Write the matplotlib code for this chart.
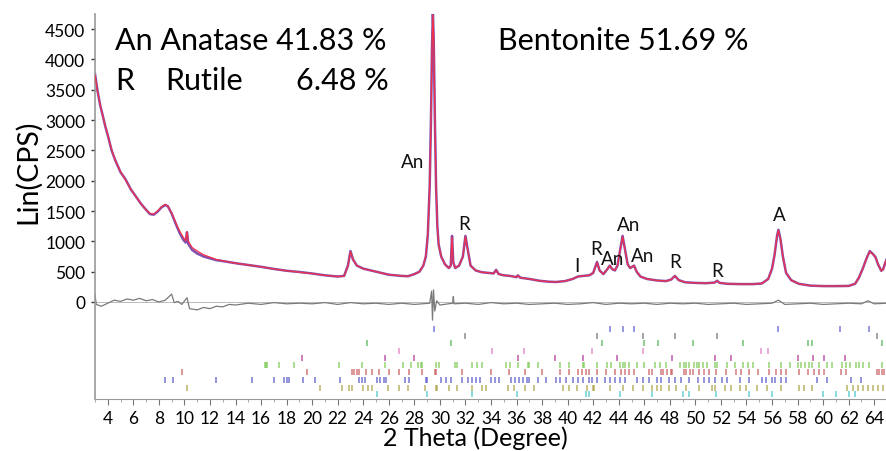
import matplotlib
matplotlib.use("Agg")
import matplotlib.pyplot as plt
from matplotlib.ticker import MultipleLocator

plt.rcParams['font.family'] = ['Lato', 'DejaVu Sans']

# ---------------- data ----------------
two_theta = [3.0, 3.2, 3.4, 3.6, 3.8, 4.0, 4.3, 4.6, 5.0, 5.4, 5.8, 6.2, 6.6, 7.0, 7.3, 7.6, 7.9,
             8.2, 8.5, 8.7, 9.0, 9.3, 9.6, 9.9, 10.1, 10.2, 10.3, 10.6, 11.0, 11.5, 12.0, 12.5,
             13.0, 14.0, 15.0, 16.0, 17.0, 18.0, 19.0, 20.0, 21.0, 22.0, 22.5, 22.8, 23.0, 23.2,
             23.5, 24.0, 25.0, 26.0, 27.0, 27.5, 28.0, 28.4, 28.7, 28.9, 29.05, 29.2, 29.3, 29.38,
             29.45, 29.52, 29.6, 29.7, 29.8, 29.9, 30.1, 30.4, 30.7, 30.85, 30.95, 31.05, 31.2,
             31.5, 31.8, 32.0, 32.15, 32.4, 32.8, 33.3, 33.8, 34.2, 34.4, 34.6, 35.0, 35.5, 36.0,
             36.1, 36.3, 37.0, 37.8, 38.5, 39.1, 39.8, 40.4, 40.8, 41.2, 41.7, 42.0, 42.3, 42.5,
             42.8, 43.1, 43.3, 43.5, 43.7, 43.9, 44.1, 44.3, 44.5, 44.7, 44.9, 45.2, 45.4, 45.7,
             46.2, 47.0, 47.7, 48.1, 48.4, 48.7, 49.2, 50.0, 50.8, 51.5, 51.7, 51.9, 52.5, 53.5,
             54.5, 55.2, 55.7, 56.0, 56.2, 56.4, 56.5, 56.65, 56.85, 57.1, 57.5, 58.1, 59.0, 60.0,
             61.0, 62.0, 62.5, 62.8, 63.1, 63.4, 63.65, 63.9, 64.1, 64.3, 64.55, 64.7, 64.85, 65.0]
observed = [3760, 3480, 3250, 3080, 2900, 2750, 2500, 2330, 2140, 2020, 1860, 1740, 1620, 1520,
            1450, 1440, 1490, 1560, 1600, 1580, 1460, 1300, 1150, 1030, 980, 1150, 960, 860, 800,
            750, 720, 690, 675, 640, 610, 580, 545, 515, 495, 470, 440, 420, 430, 600, 840, 700,
            600, 550, 500, 450, 430, 425, 460, 500, 600, 750, 1100, 1900, 3000, 4200, 4760, 4300,
            3100, 1900, 1250, 950, 750, 620, 560, 600, 1090, 650, 560, 600, 750, 1090, 900, 600,
            520, 490, 480, 470, 530, 460, 440, 430, 410, 440, 400, 380, 350, 335, 330, 345, 380,
            420, 430, 440, 480, 660, 520, 460, 540, 600, 540, 520, 600, 850, 1090, 850, 620, 560,
            600, 500, 420, 380, 355, 345, 370, 430, 360, 325, 315, 310, 320, 350, 315, 300, 295,
            295, 305, 380, 550, 780, 1100, 1190, 1050, 750, 480, 360, 300, 270, 262, 262, 265,
            300, 400, 550, 720, 840, 790, 740, 620, 515, 540, 640, 720]
calculated = [3740, 3470, 3260, 3080, 2910, 2760, 2510, 2330, 2150, 2010, 1860, 1740, 1620, 1520,
              1460, 1450, 1500, 1570, 1610, 1580, 1470, 1320, 1180, 1070, 1010, 1160, 1000, 900,
              840, 780, 740, 700, 680, 640, 610, 580, 545, 515, 492, 468, 440, 420, 428, 590, 830,
              700, 600, 550, 500, 452, 430, 425, 460, 500, 600, 760, 1120, 1920, 3000, 4150, 4740,
              4320, 3120, 1900, 1250, 950, 750, 620, 560, 600, 1070, 650, 560, 600, 750, 1080,
              900, 600, 520, 490, 480, 470, 520, 460, 440, 430, 410, 435, 400, 380, 350, 335, 330,
              345, 380, 420, 430, 440, 480, 650, 520, 460, 540, 600, 540, 520, 600, 850, 1080,
              850, 620, 560, 600, 500, 420, 380, 355, 345, 370, 430, 360, 325, 315, 310, 320, 345,
              315, 300, 295, 295, 305, 380, 550, 780, 1100, 1180, 1050, 750, 480, 360, 300, 270,
              262, 262, 265, 300, 400, 550, 720, 830, 790, 740, 620, 515, 540, 640, 720]

diff_theta = [3.0, 3.1, 3.5, 4.0, 4.5, 5.0, 5.5, 6.0, 6.5, 7.0, 7.5, 8.0, 8.5, 9.0, 9.2, 9.5, 9.8,
              10.2, 10.4, 11.0, 11.5, 12.0, 12.5, 13.0, 13.5, 14.0, 15.0, 16.0, 17.0, 18.0, 19.0,
              20.0, 21.0, 22.0, 23.0, 24.0, 25.0, 26.0, 27.0, 28.0, 29.2, 29.35, 29.42, 29.5,
              29.6, 29.75, 30.0, 31.0, 31.05, 31.1, 32.0, 33.0, 34.0, 35.0, 36.0, 37.0, 38.0,
              39.0, 40.0, 41.0, 42.0, 43.0, 44.0, 45.0, 46.0, 47.0, 48.0, 49.0, 50.0, 51.0, 52.0,
              53.0, 54.0, 55.0, 56.0, 56.5, 57.0, 58.0, 59.0, 60.0, 61.0, 62.0, 63.0, 63.5, 64.0,
              65.0]
difference = [120, -40, -70, -20, 30, 10, 50, 30, 60, 20, 40, 0, 30, 130, -10, 10, -40, 70,
              -110, -130, -90, -110, -70, -80, -40, -50, -20, -40, -10, -30, -20, -30, -10, -40,
              -10, -30, -20, -40, -20, -40, -20, 180, -300, 200, -150, 20, -50, -20, 90, -30, -20,
              -40, -10, -30, -20, -40, -30, -20, -40, -30, -10, -40, -20, -30, -20, -40, -20, -30,
              -20, -40, -30, -20, -40, -30, -20, 30, -40, -30, -20, -40, -30, -20, -30, 20, -30,
              -20]

peak_labels = ["An", "R", "I", "R", "An", "An", "An", "R", "R", "A"]
peak_label_x = [27.9, 31.9, 40.7, 42.2, 43.5, 44.8, 45.9, 48.4, 51.7, 56.6]
peak_label_y = [2310, 1300, 610, 880, 720, 1280, 770, 670, 520, 1440]

phase_offsets = [-445, -560, -676, -808, -923, -1038, -1154, -1286, -1417, -1516]
phase_colors = ['#5a5ad0', '#707070', '#4fb24f', '#e07ac0', '#b0309a',
                '#78c850', '#c85a5a', '#5555c8', '#a8a040', '#40c4c8']
phase_positions = [
    [29.5, 43.3, 44.3, 45.2, 56.5, 61.3, 63.6],
    [32.0, 42.3, 45.9, 48.4, 51.7, 64.2],
    [24.3, 30.9, 42.7, 46.0, 47.1, 49.8, 53.7, 58.8, 59.1, 64.6],
    [26.8, 34.1, 36.6, 41.9, 45.9, 55.1, 55.7],
    [19.2, 25.7, 28.0, 36.1, 39.0, 41.2, 43.9, 48.2, 51.5, 52.8, 58.0, 59.2, 60.1, 61.7],
    [16.3, 16.4, 16.5, 17.4, 18.6, 22.1, 23.9, 25.7, 27.1, 27.7, 28.3, 28.5, 28.6, 29.7, 29.9,
     31.2, 31.3, 32.5, 32.9, 33.3, 35.2, 35.5, 36.1, 36.9, 37.0, 37.7, 39.4, 40.1, 41.2, 41.3,
     42.3, 43.1, 43.4, 44.1, 44.3, 44.5, 44.8, 45.4, 46.0, 46.8, 47.2, 47.7, 48.8, 49.1, 49.3,
     49.5, 49.9, 50.1, 50.3, 50.6, 50.9, 51.5, 51.7, 52.5, 53.1, 53.7, 54.1, 54.5, 55.8, 56.7,
     57.4, 58.0, 58.3, 58.6, 58.9, 59.1, 59.7, 60.3, 60.7, 61.5, 61.8, 62.1, 62.6, 62.8, 63.1,
     63.6, 64.6],
    [9.8, 19.6, 23.1, 23.3, 23.5, 23.7, 24.2, 24.7, 25.2, 26.0, 26.8, 27.6, 28.6, 29.6, 29.7,
     31.7, 34.0, 35.4, 36.7, 38.0, 39.4, 40.1, 40.8, 41.1, 41.4, 41.7, 42.3, 43.0, 43.7, 44.2,
     44.5, 44.8, 45.2, 46.4, 46.6, 47.3, 47.5, 47.8, 48.1, 48.2, 49.1, 49.3, 49.6, 49.8, 50.3,
     50.7, 51.1, 51.6, 52.4, 53.2, 53.6, 54.2, 54.9, 55.8, 56.3, 56.7, 57.1, 58.1, 58.8, 59.3,
     59.7, 60.1, 61.4, 61.8, 64.2, 64.4, 64.6, 64.8],
    [8.5, 9.1, 12.5, 15.3, 17.0, 17.8, 18.0, 18.2, 19.3, 20.2, 22.2, 23.7, 23.9, 24.1, 25.1,
     25.3, 25.6, 25.8, 27.3, 27.6, 28.9, 29.0, 30.1, 30.5, 30.9, 31.7, 32.2, 32.5, 32.8, 33.1,
     34.0, 34.3, 34.6, 35.6, 35.9, 36.2, 36.5, 36.8, 37.0, 37.7, 38.3, 39.1, 39.4, 39.9, 40.4,
     40.8, 41.2, 41.7, 41.9, 42.3, 42.9, 43.3, 43.7, 44.1, 44.5, 45.4, 45.9, 46.4, 47.0, 47.3,
     47.9, 48.4, 48.9, 49.5, 50.2, 50.7, 51.1, 51.5, 52.1, 52.5, 53.5, 54.2, 55.2, 55.5, 56.0,
     56.2, 56.7, 57.1, 59.5, 60.3, 62.2, 63.0],
    [10.2, 20.6, 22.3, 22.9, 23.1, 24.0, 24.4, 24.7, 25.9, 26.8, 27.5, 28.8, 29.7, 29.8, 30.7,
     31.3, 32.5, 33.3, 33.6, 35.3, 35.8, 36.7, 37.4, 39.6, 40.1, 40.7, 41.5, 42.0, 42.1, 43.3,
     44.3, 45.1, 45.9, 46.6, 47.0, 47.3, 47.9, 48.5, 49.3, 50.3, 51.3, 51.5, 52.3, 52.8, 53.5,
     54.0, 54.8, 55.6, 56.7, 58.1, 58.5, 59.1, 61.9, 62.3, 62.7, 63.1, 63.5, 63.9, 64.3, 64.7],
    [25.1, 29.0, 32.5, 36.0, 41.4, 41.7, 44.1, 46.6, 49.0, 49.5, 51.6, 54.2, 56.0, 60.0, 61.0,
     62.0, 62.5],
]

y_ticks = [0, 500, 1000, 1500, 2000, 2500, 3000, 3500, 4000, 4500]
x_ticks = list(range(4, 65, 2))

# ---------------- figure ----------------
W, H = 887, 452
AX_L, AX_T, AX_B = 95, 15, 400
AX_W, AX_H = W - AX_L, AX_B - AX_T
fig = plt.figure(figsize=(W / 100, H / 100), dpi=100)
ax = fig.add_axes([AX_L / W, 1 - AX_B / H, AX_W / W, AX_H / H])

ax.plot(two_theta, observed, color='#6a2fa0', lw=1.8, alpha=0.85, zorder=2)
ax.plot(two_theta, calculated, color='#f2304a', lw=0.9, zorder=3)
ax.axhline(0, color='#b0b0b0', lw=0.6, zorder=1)
ax.plot(diff_theta, difference, color='#7a7a7a', lw=0.9, zorder=2)

for offs, col, pos in zip(phase_offsets, phase_colors, phase_positions):
    ax.vlines(pos, offs - 50, offs + 50, colors=col, lw=1.1, alpha=0.8)

for lab, lx, ly in zip(peak_labels, peak_label_x, peak_label_y):
    ax.text(lx, ly, lab, fontsize=13.5, ha='center', va='center', color='#111111')

ax.set_xlim(3, 65)
ax.set_ylim(-1600, 4750)
ax.set_yticks(y_ticks)
ax.set_xticks(x_ticks)
ax.xaxis.set_minor_locator(MultipleLocator(1))
ax.tick_params(axis='y', labelsize=12.5, length=3, width=1, pad=4, color='#333333')
ax.tick_params(axis='x', which='major', labelsize=12.5, length=4, width=0.8, pad=4, color='#777777')
ax.tick_params(axis='x', which='minor', length=2, width=0.6, color='#999999')
for s in ['top', 'right']:
    ax.spines[s].set_visible(False)
ax.spines['left'].set_color('#9a9a9a')
ax.spines['bottom'].set_color('#9a9a9a')
ax.spines['left'].set_linewidth(1.2)

ax.set_ylabel('Lin(CPS)', fontsize=20.5, va='center', ha='center')
ax.yaxis.set_label_coords((28 - AX_L) / AX_W, (AX_B - 172) / AX_H)
ax.set_xlabel('2 Theta (Degree)', fontsize=18, va='baseline', ha='center')
ax.xaxis.set_label_coords((475 - AX_L) / AX_W, (AX_B - 446) / AX_H)

fig.text(115 / W, 1 - 50 / H, 'An Anatase 41.83 %', fontsize=22, va='baseline', ha='left')
fig.text(115 / W, 1 - 90 / H, 'R', fontsize=22, va='baseline', ha='left')
fig.text(165 / W, 1 - 90 / H, 'Rutile', fontsize=22, va='baseline', ha='left')
fig.text(389 / W, 1 - 90 / H, '6.48 %', fontsize=22, va='baseline', ha='right')
fig.text(498 / W, 1 - 50 / H, 'Bentonite 51.69 %', fontsize=22, va='baseline', ha='left')

fig.savefig('out.png', dpi=100)
